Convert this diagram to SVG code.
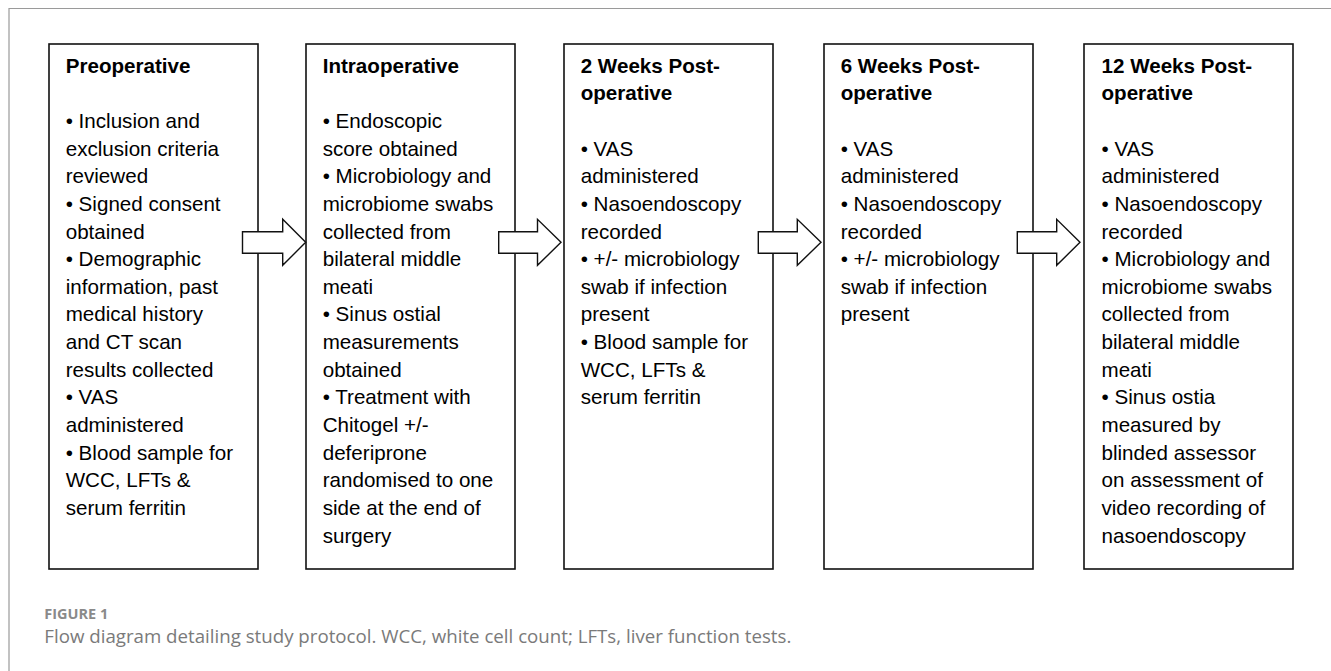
<svg xmlns="http://www.w3.org/2000/svg" width="1331" height="671" viewBox="0 0 1331 671">
<style>
.frame{stroke:#9a9a9a;stroke-width:1.2;fill:none}
.box{fill:#fff;stroke:#111;stroke-width:1.6}
.arrow{fill:#fff;stroke:#111;stroke-width:1.4;stroke-linejoin:miter}
.t{font-family:"Liberation Sans",Arial,sans-serif;font-size:20.6px;fill:#000}
.h{font-weight:bold}
.fig{font-family:"Open Sans","Noto Sans",sans-serif;font-size:14.5px;font-weight:bold;fill:#8a8a8a}
.cap{font-family:"Open Sans","Noto Sans",sans-serif;font-size:18.7px;fill:#7a7a7a}
</style>
<rect width="1331" height="671" fill="#fff"/>
<path class="frame" d="M9,671 V8.5 H1331"/>

<g id="node-preoperative">
<rect class="box" x="49" y="44" width="209" height="525"/>
<text class="t" x="65.7" y="72.7"><tspan class="h">Preoperative</tspan><tspan x="65.7" dy="55.3">• Inclusion and</tspan><tspan x="65.7" dy="27.64">exclusion criteria</tspan><tspan x="65.7" dy="27.64">reviewed</tspan><tspan x="65.7" dy="27.64">• Signed consent</tspan><tspan x="65.7" dy="27.64">obtained</tspan><tspan x="65.7" dy="27.64">• Demographic</tspan><tspan x="65.7" dy="27.64">information, past</tspan><tspan x="65.7" dy="27.64">medical history</tspan><tspan x="65.7" dy="27.64">and CT scan</tspan><tspan x="65.7" dy="27.64">results collected</tspan><tspan x="65.7" dy="27.64">• VAS</tspan><tspan x="65.7" dy="27.64">administered</tspan><tspan x="65.7" dy="27.64">• Blood sample for</tspan><tspan x="65.7" dy="27.64">WCC, LFTs &amp;</tspan><tspan x="65.7" dy="27.64">serum ferritin</tspan></text>
</g>

<g id="node-intraoperative">
<rect class="box" x="306" y="44" width="209" height="525"/>
<text class="t" x="322.7" y="72.7"><tspan class="h">Intraoperative</tspan><tspan x="322.7" dy="55.3">• Endoscopic</tspan><tspan x="322.7" dy="27.64">score obtained</tspan><tspan x="322.7" dy="27.64">• Microbiology and</tspan><tspan x="322.7" dy="27.64">microbiome swabs</tspan><tspan x="322.7" dy="27.64">collected from</tspan><tspan x="322.7" dy="27.64">bilateral middle</tspan><tspan x="322.7" dy="27.64">meati</tspan><tspan x="322.7" dy="27.64">• Sinus ostial</tspan><tspan x="322.7" dy="27.64">measurements</tspan><tspan x="322.7" dy="27.64">obtained</tspan><tspan x="322.7" dy="27.64">• Treatment with</tspan><tspan x="322.7" dy="27.64">Chitogel +/-</tspan><tspan x="322.7" dy="27.64">deferiprone</tspan><tspan x="322.7" dy="27.64">randomised to one</tspan><tspan x="322.7" dy="27.64">side at the end of</tspan><tspan x="322.7" dy="27.64">surgery</tspan></text>
</g>

<g id="node-2weeks">
<rect class="box" x="564" y="44" width="209" height="525"/>
<text class="t" x="580.7" y="72.7"><tspan class="h">2 Weeks Post-</tspan><tspan class="h" x="580.7" dy="27.64">operative</tspan><tspan x="580.7" dy="55.3">• VAS</tspan><tspan x="580.7" dy="27.64">administered</tspan><tspan x="580.7" dy="27.64">• Nasoendoscopy</tspan><tspan x="580.7" dy="27.64">recorded</tspan><tspan x="580.7" dy="27.64">• +/- microbiology</tspan><tspan x="580.7" dy="27.64">swab if infection</tspan><tspan x="580.7" dy="27.64">present</tspan><tspan x="580.7" dy="27.64">• Blood sample for</tspan><tspan x="580.7" dy="27.64">WCC, LFTs &amp;</tspan><tspan x="580.7" dy="27.64">serum ferritin</tspan></text>
</g>

<g id="node-6weeks">
<rect class="box" x="824" y="44" width="209" height="525"/>
<text class="t" x="840.7" y="72.7"><tspan class="h">6 Weeks Post-</tspan><tspan class="h" x="840.7" dy="27.64">operative</tspan><tspan x="840.7" dy="55.3">• VAS</tspan><tspan x="840.7" dy="27.64">administered</tspan><tspan x="840.7" dy="27.64">• Nasoendoscopy</tspan><tspan x="840.7" dy="27.64">recorded</tspan><tspan x="840.7" dy="27.64">• +/- microbiology</tspan><tspan x="840.7" dy="27.64">swab if infection</tspan><tspan x="840.7" dy="27.64">present</tspan></text>
</g>

<g id="node-12weeks">
<rect class="box" x="1084" y="44" width="209" height="525"/>
<text class="t" x="1101.5" y="72.7"><tspan class="h">12 Weeks Post-</tspan><tspan class="h" x="1101.5" dy="27.64">operative</tspan><tspan x="1101.5" dy="55.3">• VAS</tspan><tspan x="1101.5" dy="27.64">administered</tspan><tspan x="1101.5" dy="27.64">• Nasoendoscopy</tspan><tspan x="1101.5" dy="27.64">recorded</tspan><tspan x="1101.5" dy="27.64">• Microbiology and</tspan><tspan x="1101.5" dy="27.64">microbiome swabs</tspan><tspan x="1101.5" dy="27.64">collected from</tspan><tspan x="1101.5" dy="27.64">bilateral middle</tspan><tspan x="1101.5" dy="27.64">meati</tspan><tspan x="1101.5" dy="27.64">• Sinus ostia</tspan><tspan x="1101.5" dy="27.64">measured by</tspan><tspan x="1101.5" dy="27.64">blinded assessor</tspan><tspan x="1101.5" dy="27.64">on assessment of</tspan><tspan x="1101.5" dy="27.64">video recording of</tspan><tspan x="1101.5" dy="27.64">nasoendoscopy</tspan></text>
</g>

<g id="connectors">
<path class="arrow" d="M242.5,231.7 H282.7 V219.3 L305.7,242.3 L282.7,265.3 V253.3 H242.5 Z"/>
<path class="arrow" d="M498.7,231.7 H537.5 V219.3 L561,242.3 L537.5,265.3 V253.3 H498.7 Z"/>
<path class="arrow" d="M758.3,231.7 H797.3 V219.3 L821,242.3 L797.3,265.3 V253.3 H758.3 Z"/>
<path class="arrow" d="M1017.3,231.7 H1056.7 V219.3 L1080,242.3 L1056.7,265.3 V253.3 H1017.3 Z"/>
</g>

<text class="fig" x="44.3" y="618.7">FIGURE 1</text>
<text class="cap" x="44.3" y="643.3">Flow diagram detailing study protocol. WCC, white cell count; LFTs, liver function tests.</text>
</svg>
